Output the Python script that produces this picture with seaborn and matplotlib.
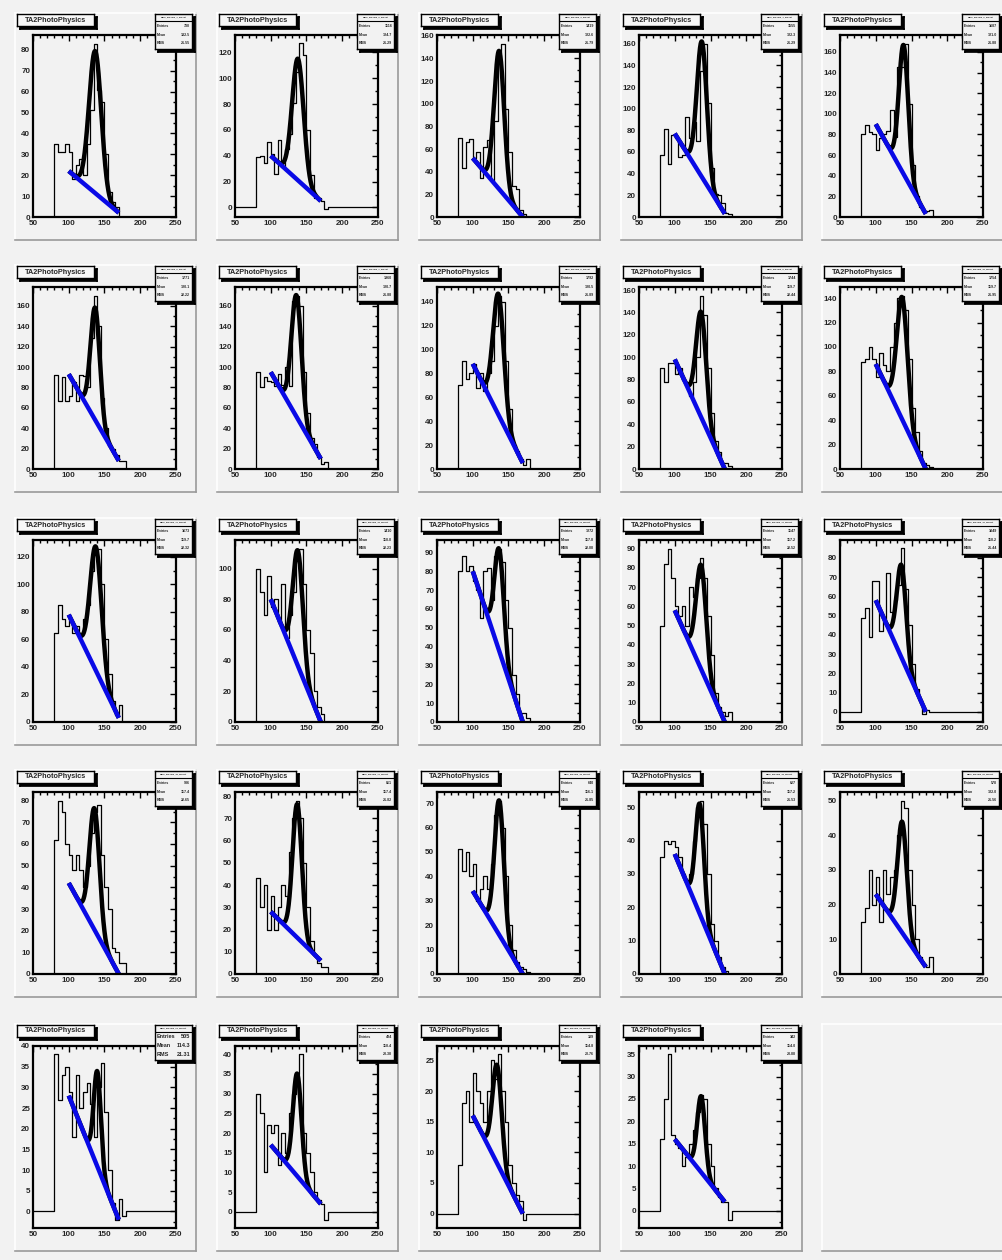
import numpy as np
import pandas as pd
import seaborn as sns
import matplotlib
matplotlib.use("Agg")
import matplotlib.pyplot as plt
from matplotlib.ticker import MultipleLocator, MaxNLocator, AutoMinorLocator

sns.set_theme(style="white")
plt.rcParams['font.family'] = ['Liberation Sans', 'DejaVu Sans']
plt.rcParams['font.weight'] = 'bold'

# ---------------- data ----------------
hist_title = "TA2PhotoPhysics"
x_range = (50, 250)
bin_width = 5
first_filled_bin = 80   # counts below start at this bin edge

counts_p01 = [35, 31, 31, 35, 31, 18, 25, 28, 20, 35, 51, 83, 61, 55, 30, 12, 7, 5, 0, 0]
counts_p02 = [39, 40, 34, 51, 41, 26, 52, 31, 45, 57, 81, 105, 127, 118, 60, 25, 7, 7, 5, -1]
counts_p03 = [70, 43, 66, 69, 52, 57, 34, 62, 68, 32, 85, 145, 153, 95, 57, 27, 25, 6, 3, 0]
counts_p04 = [57, 81, 49, 76, 73, 55, 57, 92, 73, 88, 70, 135, 160, 105, 45, 21, 20, 13, 4, 3]
counts_p05 = [80, 89, 82, 80, 65, 77, 80, 83, 104, 78, 145, 145, 168, 110, 50, 20, 10, 6, 6, 7]
counts_p06 = [92, 67, 90, 67, 72, 85, 67, 92, 91, 80, 128, 170, 140, 70, 40, 23, 20, 14, 8, 8]
counts_p07 = [95, 80, 90, 86, 85, 81, 93, 82, 100, 81, 165, 170, 160, 95, 55, 30, 25, 12, 5, 7]
counts_p08 = [70, 90, 75, 80, 88, 68, 80, 65, 80, 90, 120, 145, 140, 90, 50, 20, 15, 8, 3, 8]
counts_p09 = [90, 78, 95, 95, 85, 90, 80, 75, 65, 78, 100, 155, 138, 90, 50, 25, 15, 5, 5, 3]
counts_p10 = [88, 90, 100, 90, 75, 95, 85, 80, 100, 120, 140, 142, 130, 90, 50, 30, 15, 5, 3, 2]
counts_p11 = [65, 85, 75, 70, 75, 65, 70, 65, 75, 85, 110, 125, 126, 100, 60, 35, 15, 5, 12, 0]
counts_p12 = [100, 85, 70, 95, 75, 80, 65, 90, 55, 70, 85, 105, 113, 90, 60, 45, 20, 10, 5, 0]
counts_p13 = [80, 88, 80, 83, 75, 70, 55, 80, 82, 65, 88, 92, 85, 65, 50, 25, 15, 5, 5, 2]
counts_p14 = [50, 82, 90, 75, 60, 55, 60, 50, 70, 65, 75, 85, 75, 55, 35, 15, 8, 5, 3, 5]
counts_p15 = [49, 54, 39, 68, 68, 42, 47, 72, 52, 58, 66, 85, 64, 45, 25, 12, 6, -1, 1, 0]
counts_p16 = [62, 80, 75, 60, 55, 48, 55, 48, 40, 50, 65, 75, 78, 55, 40, 30, 12, 10, 5, 5]
counts_p17 = [43, 30, 40, 20, 35, 20, 30, 40, 35, 55, 70, 78, 70, 50, 30, 15, 8, 5, 3, 3]
counts_p18 = [51, 42, 50, 40, 45, 30, 35, 40, 35, 45, 65, 71, 60, 40, 20, 10, 5, 3, 2, 1]
counts_p19 = [35, 40, 39, 40, 38, 35, 30, 28, 30, 40, 50, 52, 45, 30, 15, 10, 5, 2, 1, 0]
counts_p20 = [15, 19, 30, 20, 28, 15, 30, 23, 28, 30, 40, 50, 48, 30, 20, 10, 5, 3, 2, 5]
counts_p21 = [38, 27, 33, 35, 29, 18, 33, 25, 29, 31, 26, 18, 30, 36, 24, 10, 2, -2, 3, -1]
counts_p22 = [30, 25, 10, 22, 20, 22, 12, 20, 15, 25, 30, 35, 40, 20, 15, 10, 5, 3, 2, -2]
counts_p23 = [8, 18, 20, 15, 23, 20, 18, 15, 20, 25, 22, 26, 20, 15, 8, 5, 3, 2, -1, 0]
counts_p24 = [16, 25, 35, 17, 15, 14, 10, 12, 15, 18, 22, 26, 25, 15, 10, 5, 3, 2, 2, -2]

all_counts = [counts_p01, counts_p02, counts_p03, counts_p04, counts_p05, counts_p06,
              counts_p07, counts_p08, counts_p09, counts_p10, counts_p11, counts_p12,
              counts_p13, counts_p14, counts_p15, counts_p16, counts_p17, counts_p18,
              counts_p19, counts_p20, counts_p21, counts_p22, counts_p23, counts_p24]

# Gaussian peak on top of a linear background (fit range 100-170)
fit_range = (100, 170)
gauss_amp = [68, 94, 122, 125, 125, 110, 119, 101, 94, 100, 90, 75,
             54, 54, 48, 56, 60, 55, 33, 32, 23, 26, 16, 17]
gauss_mean = [137, 138, 137, 138, 139, 137, 136, 136, 137, 137, 138, 138,
              137, 137, 136, 136, 137, 137, 135, 137, 140, 137, 134, 137]
gauss_sigma = [8.5, 8, 7, 7, 6.5, 6.5, 7, 7.5, 7, 7.5, 8, 7,
               6.5, 7, 6.5, 7, 6.5, 6.5, 6, 6.5, 5, 6, 6.5, 5.5]
bkg_at_100 = [22, 40, 52, 77, 90, 93, 95, 88, 98, 86, 78, 80,
              80, 58, 58, 42, 28, 34, 36, 23, 28, 17, 16, 16]
bkg_at_170 = [2, 5, 0, 3, 3, 8, 10, 5, 0, 0, 3, 0,
              0, 0, 0, 0, 6, 0, 0, 2, -2, 2, 0, 2]

stat_entries = [730, 1116, 1419, 1555, 1687, 1771, 1960, 1792, 1744, 1754, 1673, 1410,
                1272, 1147, 1049, 986, 861, 640, 627, 578, 505, 424, 389, 342]
stat_mean = [132.5, 124.7, 122.6, 122.3, 121.0, 120.1, 120.7, 120.5, 119.7, 119.7, 119.7, 118.0,
             117.0, 117.2, 118.2, 117.4, 117.4, 116.1, 117.2, 122.0, 114.3, 118.4, 114.8, 114.0]
stat_rms = [21.55, 21.29, 21.79, 21.29, 21.88, 22.22, 21.88, 21.89, 22.44, 21.95, 22.32, 22.23,
            22.08, 22.52, 21.44, 22.65, 21.82, 21.85, 21.53, 21.56, 21.31, 23.38, 20.76, 23.88]
stat_names = ["Mass_MGsum_%d_MGcut" % (i + 1) for i in range(24)]

# ---------------- layout (pixels) ----------------
W, H = 1003, 1260
PAD_BG = "#f2f2f2"
fig = plt.figure(figsize=(W / 100, H / 100), dpi=100)
fig.patch.set_facecolor(PAD_BG)

col_x0 = [15, 217, 419, 621, 822]
row_y0 = [13, 265, 518, 770, 1024]
PAD_W, PAD_H = 181, 227


def px_axes(x, y, w, h, z=1):
    return fig.add_axes([x / W, 1 - (y + h) / H, w / W, h / H], zorder=z)


def bare(ax):
    ax.set_xticks([])
    ax.set_yticks([])
    ax.set_xlim(0, 1)
    ax.set_ylim(0, 1)


def shadow_box(x, y, w, h, face, z=5, off=3):
    sh = px_axes(x + off, y + off, w, h, z)
    sh.set_facecolor("black")
    bare(sh)
    for s in sh.spines.values():
        s.set_color("black")
    bx = px_axes(x, y, w, h, z + 1)
    bx.set_facecolor(face)
    bare(bx)
    for s in bx.spines.values():
        s.set_color("black")
        s.set_linewidth(1.0)
    return bx


centers = np.arange(x_range[0], x_range[1], bin_width) + bin_width / 2
xs = np.linspace(fit_range[0], fit_range[1], 300)

for idx in range(25):
    r, c = divmod(idx, 5)
    px, py = col_x0[c], row_y0[r]
    pad = px_axes(px, py, PAD_W, PAD_H, 0)
    pad.set_facecolor(PAD_BG)
    bare(pad)
    pad.spines["left"].set_color("white")
    pad.spines["top"].set_color("white")
    pad.spines["right"].set_color("#9a9a9a")
    pad.spines["bottom"].set_color("#9a9a9a")
    for s in pad.spines.values():
        s.set_linewidth(1.2)
    if idx >= 24:
        continue

    cnt = np.array(all_counts[idx], dtype=float)
    weights = np.zeros(len(centers))
    i0 = int((first_filled_bin - x_range[0]) / bin_width)
    weights[i0:i0 + len(cnt)] = cnt
    df = pd.DataFrame({"mgg": centers, "w": weights})

    ax = px_axes(px + 18, py + 22, 143, 182, 2)
    ax.set_facecolor(PAD_BG)
    sns.histplot(data=df, x="mgg", weights="w", binwidth=bin_width, binrange=x_range,
                 element="step", fill=False, color="black", linewidth=0.9, ax=ax)

    bkg = bkg_at_100[idx] + (bkg_at_170[idx] - bkg_at_100[idx]) * (xs - fit_range[0]) / (fit_range[1] - fit_range[0])
    tot = bkg + gauss_amp[idx] * np.exp(-0.5 * ((xs - gauss_mean[idx]) / gauss_sigma[idx]) ** 2)
    sns.lineplot(x=xs, y=tot, color="black", linewidth=3.2, ax=ax, solid_capstyle="butt")
    sns.lineplot(x=xs, y=bkg, color="#0a0ae6", linewidth=3.2, ax=ax, solid_capstyle="butt")

    hmax = max(weights.max(), 0)
    hmin = min(weights.min(), 0)
    if hmin < 0:
        span = hmax - hmin
        ylo, yhi = hmin - 0.05 * span, hmax + 0.05 * span
    else:
        ylo, yhi = 0, 1.05 * hmax
    ax.set_xlim(*x_range)
    ax.set_ylim(ylo, yhi)
    ax.set_xlabel("")
    ax.set_ylabel("")
    ax.xaxis.set_major_locator(MultipleLocator(50))
    ax.xaxis.set_minor_locator(MultipleLocator(10))
    ax.yaxis.set_major_locator(MaxNLocator(nbins=10, steps=[1, 2, 5, 10]))
    ax.yaxis.set_minor_locator(AutoMinorLocator(2))
    ax.tick_params(which="both", direction="in", top=True, right=True,
                   color="black", width=1.0, labelsize=5.8, pad=2)
    ax.tick_params(which="major", length=4)
    ax.tick_params(which="minor", length=2)
    for lab in ax.get_xticklabels() + ax.get_yticklabels():
        lab.set_fontweight("bold")
    for s in ax.spines.values():
        s.set_color("black")
        s.set_linewidth(1.6)

    # title box
    tb = shadow_box(px + 2, py + 1, 77, 12, "#f7f7f7")
    tb.text(0.5, 0.5, hist_title, ha="center", va="center", fontsize=5.2,
            fontweight="bold", transform=tb.transAxes)

    # statistics box
    sb = shadow_box(px + 140, py + 1, 37, 35, PAD_BG)
    big = idx == 20
    fs = 4.0 if big else 2.6
    sb.axhline(0.8, color="black", linewidth=0.8)
    sb.text(0.5, 0.9, stat_names[idx], ha="center", va="center", fontsize=1.6,
            transform=sb.transAxes)
    rows = [("Entries", "%d" % stat_entries[idx]),
            ("Mean", "%.1f" % stat_mean[idx]),
            ("RMS", "%.2f" % stat_rms[idx])]
    for k, (lab, val) in enumerate(rows):
        yy = 0.66 - k * 0.25
        sb.text(0.04, yy, lab, ha="left", va="center", fontsize=fs,
                fontweight="bold", transform=sb.transAxes)
        sb.text(0.95, yy, val, ha="right", va="center", fontsize=fs,
                fontweight="bold", transform=sb.transAxes)

fig.savefig("out.png", dpi=100, facecolor=fig.get_facecolor())
